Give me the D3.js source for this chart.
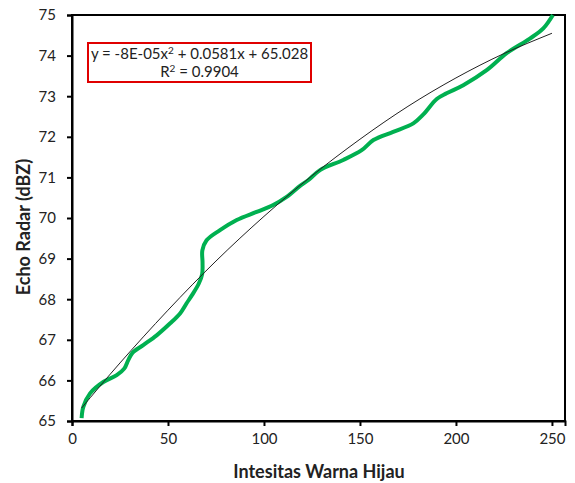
<!DOCTYPE html>
<html>
<head>
<meta charset="utf-8">
<script src="https://cdn.jsdelivr.net/npm/d3@7"></script>
<style>
  body { margin: 0; background: #fff; }
  text { font-family: Lato, "Open Sans", sans-serif; fill: #222; }
</style>
</head>
<body>
<script>
// green curve
var greenX = [5.0, 5.9, 9.4, 16.3, 23.3, 27.2, 29.3, 31.5, 37.1, 44.1, 51.0, 56.3, 59.7, 62.5, 66.0, 67.8, 68.0, 67.9, 70.1, 77.1, 85.8, 96.2, 104.8, 111.8, 118.8, 123.0, 129.2, 141.3, 150.9, 157.0, 167.3, 177.8, 183.0, 190.0, 195.1, 203.8, 216.0, 226.4, 238.5, 245.5, 250.5];
var greenY = [65.07, 65.35, 65.68, 65.96, 66.13, 66.29, 66.50, 66.68, 66.87, 67.11, 67.40, 67.65, 67.90, 68.10, 68.38, 68.62, 68.90, 69.20, 69.45, 69.70, 69.95, 70.15, 70.32, 70.52, 70.79, 70.93, 71.18, 71.43, 71.67, 71.92, 72.12, 72.33, 72.55, 72.93, 73.07, 73.27, 73.64, 74.06, 74.42, 74.67, 75.0];

// black trend line
var trendX = [5, 25, 50, 75, 100, 125, 150, 175, 200, 225, 250];
var trendY = [65.32, 66.43, 67.73, 68.94, 70.04, 71.04, 71.94, 72.75, 73.45, 74.05, 74.55];

var xTicks = [0, 50, 100, 150, 200, 250];
var yTicks = [65, 66, 67, 68, 69, 70, 71, 72, 73, 74, 75];

var w = 575;
var h = 483;

var svg = d3.select("body")
    .append("svg")
    .attr("width", w)
    .attr("height", h);

var x = d3.scaleLinear().domain([0, 256.8]).range([72, 565]);
var y = d3.scaleLinear().domain([65, 75]).range([421, 15]);

// plot frame
svg.append("rect")
    .attr("x", x(0))
    .attr("y", y(75))
    .attr("width", x(256.8) - x(0))
    .attr("height", y(65) - y(75))
    .style("fill", "none")
    .style("stroke", "#000")
    .style("stroke-width", 2);

var xAxis = svg.append("g")
    .attr("transform", "translate(0," + y(65) + ")")
    .call(d3.axisBottom(x).tickValues(xTicks).tickSize(5).tickPadding(7));

var yAxis = svg.append("g")
    .attr("transform", "translate(" + x(0) + ",0)")
    .call(d3.axisLeft(y).tickValues(yTicks).tickSize(5).tickPadding(11));

[xAxis, yAxis].forEach(function(a) {
  a.select(".domain").style("stroke", "#000").style("stroke-width", 2);
  a.selectAll(".tick line").style("stroke", "#000").style("stroke-width", 2);
  a.selectAll(".tick text")
      .style("font-family", "Lato, sans-serif")
      .style("font-size", "15px")
      .style("fill", "#222");
});

var green = greenX.map(function(d, i) { return [d, greenY[i]]; });
var trend = trendX.map(function(d, i) { return [d, trendY[i]]; });

var line = d3.line()
    .x(function(d) { return x(d[0]); })
    .y(function(d) { return y(d[1]); });

svg.append("path")
    .datum(green)
    .attr("d", line.curve(d3.curveCatmullRom.alpha(0.5)))
    .style("fill", "none")
    .style("stroke", "#00b050")
    .style("stroke-width", 4)
    .style("stroke-linejoin", "round");

svg.append("path")
    .datum(trend)
    .attr("d", line.curve(d3.curveNatural))
    .style("fill", "none")
    .style("stroke", "#222")
    .style("stroke-width", 1);

// equation box
svg.append("rect")
    .attr("x", 88)
    .attr("y", 43)
    .attr("width", 223)
    .attr("height", 39)
    .style("fill", "#fff")
    .style("stroke", "#e00000")
    .style("stroke-width", 2);

var eq1 = svg.append("text")
    .attr("x", 199.5)
    .attr("y", 59)
    .attr("text-anchor", "middle")
    .style("font-size", "15px");
eq1.append("tspan").text("y = -8E-05x");
eq1.append("tspan").attr("dy", -5).style("font-size", "10px").text("2");
eq1.append("tspan").attr("dy", 5).text(" + 0.0581x + 65.028");

var eq2 = svg.append("text")
    .attr("x", 199.5)
    .attr("y", 77)
    .attr("text-anchor", "middle")
    .style("font-size", "15px");
eq2.append("tspan").text("R");
eq2.append("tspan").attr("dy", -5).style("font-size", "10px").text("2");
eq2.append("tspan").attr("dy", 5).text(" = 0.9904");

// axis titles
svg.append("text")
    .attr("x", 319)
    .attr("y", 478)
    .attr("text-anchor", "middle")
    .style("font-size", "18px")
    .style("font-weight", "bold")
    .text("Intesitas Warna Hijau");

svg.append("text")
    .attr("transform", "translate(30,227) rotate(-90)")
    .attr("text-anchor", "middle")
    .style("font-size", "18px")
    .style("font-weight", "bold")
    .text("Echo Radar (dBZ)");
</script>
</body>
</html>
